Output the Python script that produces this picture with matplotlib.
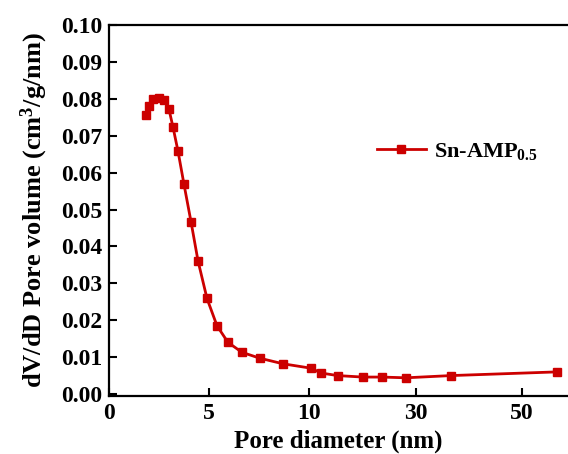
import numpy as np
import matplotlib
matplotlib.use("Agg")
import matplotlib.pyplot as plt

plt.rcParams['font.family'] = ['Liberation Serif', 'DejaVu Serif']
plt.rcParams['font.weight'] = 'bold'
plt.rcParams['mathtext.default'] = 'regular'

# pore size distribution
diameter = [1.85, 2.0, 2.2, 2.5, 2.75, 3.0, 3.2, 3.45, 3.75, 4.1, 4.45,
            4.9, 5.4, 5.95, 6.65, 7.55, 8.7, 10.4, 12.25, 15.4, 20.1,
            23.7, 28.2, 36.6, 56.5]
volume = [0.0757, 0.0780, 0.0800, 0.0802, 0.0797, 0.0771, 0.0723, 0.0658,
          0.0568, 0.0467, 0.0361, 0.0259, 0.0185, 0.0140, 0.0113, 0.0097,
          0.0082, 0.0070, 0.0057, 0.0050, 0.0046, 0.0046, 0.0044, 0.0050,
          0.0060]
xticks = [0, 5, 10, 30, 50]
yticks = np.arange(0, 0.101, 0.01)

# axis is linear up to 10 nm, then compressed
k = 0.2667
def fwd(x):
    x = np.asarray(x, dtype=float)
    return np.where(x <= 10, x, 10 + (x - 10) * k)

def inv(u):
    u = np.asarray(u, dtype=float)
    return np.where(u <= 10, u, 10 + (u - 10) / k)

fig = plt.figure(figsize=(5.68, 4.54), dpi=100)
ax = fig.add_axes([0.192, 0.128, 0.808, 0.817])
ax.set_xscale('function', functions=(fwd, inv))

ax.plot(diameter, volume, '-s', color='#cc0000', lw=2, ms=6,
        label='Sn-AMP$_{0.5}$')

ax.set_xlim(0, 58.6)
ax.set_ylim(-0.0005, 0.1)
ax.set_xticks(xticks)
ax.set_xticklabels([str(t) for t in xticks])
ax.set_yticks(yticks)
ax.set_yticklabels([f'{t:.2f}' for t in yticks])
ax.minorticks_off()
ax.tick_params(direction='in', length=6, width=1.5, labelsize=17, pad=5)
for s in ['left', 'bottom', 'top']:
    ax.spines[s].set_linewidth(1.6)
ax.spines['right'].set_visible(False)

ax.set_xlabel('Pore diameter (nm)', fontsize=18, fontweight='bold', labelpad=4)
ax.set_ylabel('dV/dD Pore volume (cm$^3$/g/nm)', fontsize=19,
              fontweight='bold', labelpad=8)

ax.legend(loc='center left', bbox_to_anchor=(0.54, 0.66), frameon=False,
          fontsize=16, handlelength=2.2, handletextpad=0.35, markerscale=1.0)

fig.savefig('out.png', dpi=100)
